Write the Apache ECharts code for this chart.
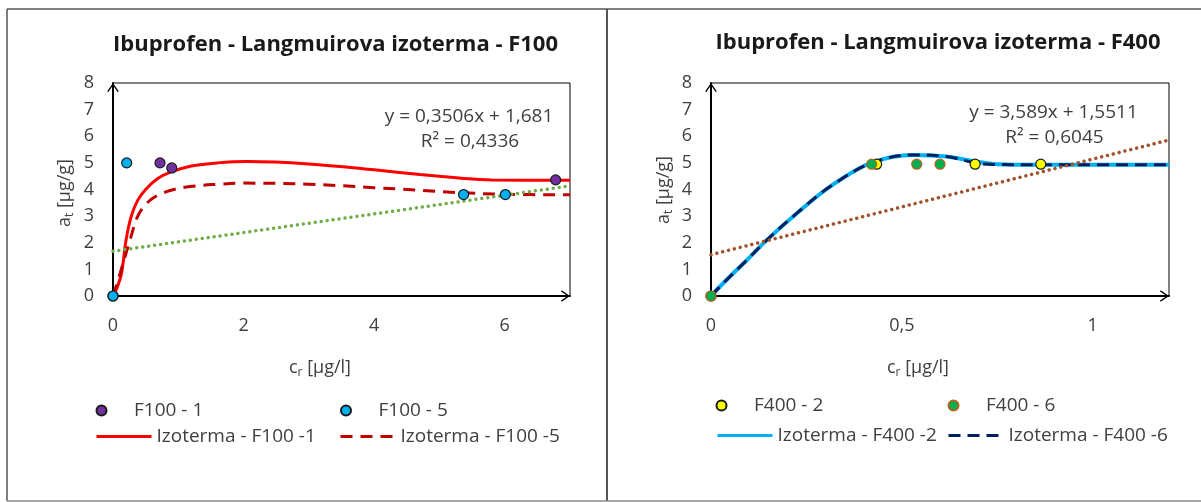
<!DOCTYPE html>
<html>
<head>
<meta charset="utf-8">
<script src="https://cdn.jsdelivr.net/npm/echarts@6/dist/echarts.min.js"></script>
<style>
  html, body { margin: 0; padding: 0; background: #fff; }
  #chart { width: 1201px; height: 502px; }
</style>
</head>
<body>
<div id="chart"></div>
<script>
// F100 - body merania
const f100_1 = [[0, 0], [0.72, 5.0], [0.9, 4.81], [6.78, 4.36]];
const f100_5 = [[0, 0], [0.21, 5.0], [5.37, 3.81], [6.01, 3.81]];
// F100 - izotermy (odcitane z grafu)
const izo100_1 = [[0, 0], [0.06, 0.3], [0.13, 0.85], [0.2, 2.1], [0.28, 3.0], [0.38, 3.6], [0.5, 4.0],
  [0.68, 4.4], [0.87, 4.64], [1.2, 4.88], [1.6, 5.0], [2.05, 5.05], [3, 4.96], [4, 4.74], [4.7, 4.56],
  [5.3, 4.43], [5.8, 4.36], [6.8, 4.35], [7, 4.35]];
const izo100_5 = [[0, 0], [0.11, 0.86], [0.26, 2.1], [0.39, 3.05], [0.57, 3.6], [0.82, 3.92], [1.18, 4.11],
  [1.64, 4.2], [2, 4.24], [3, 4.2], [4, 4.07], [5.33, 3.88], [6, 3.82], [7, 3.8]];
const trend100 = [[0, 1.681], [7, 4.135]];

// F400
const f400_2 = [[0, 0], [0.434, 4.95], [0.692, 4.95], [0.864, 4.95]];
const f400_6 = [[0, 0], [0.421, 4.95], [0.539, 4.95], [0.6, 4.95]];
const izo400_2 = [[0, 0], [0.032, 0.48], [0.094, 1.35], [0.146, 2.1], [0.225, 3.11], [0.312, 4.11],
  [0.421, 5.01], [0.53, 5.3], [0.617, 5.24], [0.692, 5.05], [0.75, 4.95], [0.86, 4.93], [1.2, 4.93]];
const izo400_6 = [[0, 0], [0.032, 0.48], [0.094, 1.35], [0.146, 2.1], [0.225, 3.11], [0.312, 4.11],
  [0.421, 5.0], [0.53, 5.3], [0.617, 5.24], [0.692, 5.0], [0.74, 4.94], [0.86, 4.93], [1.2, 4.93]];
const trend400 = [[0, 1.5511], [1.2, 5.858]];

const titles = ['Ibuprofen - Langmuirova izoterma - F100', 'Ibuprofen - Langmuirova izoterma - F400'];
const eq100 = ['y = 0,3506x + 1,681', 'R² = 0,4336'];
const eq400 = ['y = 3,589x + 1,5511', 'R² = 0,6045'];

const FONT = '"Open Sans", "Noto Sans", sans-serif';
const TXT = '#404040';
const arrow = 'path://M0,10 L7,0 L14,10 L12.6,10.9 L7,2.8 L1.4,10.9 Z';

var myChart = echarts.init(document.getElementById('chart'));

const xAxisBase = (max, interval, fmt) => ({
  type: 'value', min: 0, max: max, interval: interval,
  axisLine: { show: true, lineStyle: { color: '#000', width: 2 }, symbol: ['none', arrow], symbolSize: [14, 9], symbolOffset: [0, -4.5] },
  axisTick: { show: false },
  splitLine: { show: false },
  axisLabel: { fontFamily: FONT, fontSize: 18, color: TXT, margin: 21, showMaxLabel: false, formatter: fmt }
});
const yAxisBase = () => ({
  type: 'value', min: 0, max: 8, interval: 1,
  axisLine: { show: true, lineStyle: { color: '#000', width: 2 }, symbol: ['none', arrow], symbolSize: [14, 9], symbolOffset: [0, -4.5] },
  axisTick: { show: false },
  splitLine: { show: false },
  axisLabel: { fontFamily: FONT, fontSize: 18, color: TXT, margin: 19 }
});

const dot = (name, data, color, border, idx) => ({
  name: name, type: 'scatter', data: data, xAxisIndex: idx, yAxisIndex: idx, z: 5,
  symbolSize: 10, itemStyle: { color: color, borderColor: border, borderWidth: 1.2, opacity: 1 }
});
const curve = (name, data, color, width, dash, idx) => ({
  name: name, type: 'line', data: data, xAxisIndex: idx, yAxisIndex: idx, z: 3,
  smooth: 0.35, showSymbol: false, symbol: 'none',
  lineStyle: { color: color, width: width, type: dash },
  itemStyle: { color: color }
});
const trend = (data, color, idx) => ({
  name: 'trend' + idx, type: 'line', data: data, xAxisIndex: idx, yAxisIndex: idx, z: 4,
  showSymbol: false, symbol: 'none', silent: true,
  lineStyle: { color: color, width: 3.5, type: [0.01, 6], cap: 'round' }
});

// legenda: kazda polozka zvlast
const leg = (name, left, top, isLine) => ({
  data: [name], left: left, top: top, itemWidth: 55, itemHeight: isLine ? 14 : 10, itemGap: 0,
  padding: 0, selectedMode: false,
  itemStyle: isLine ? { opacity: 0 } : {},
  lineStyle: isLine ? { width: 3, dashOffset: 0 } : {},
  textStyle: { fontFamily: FONT, fontSize: 19, color: TXT, padding: [0, 0, 0, 0] }
});

const txt = (x, y, text, opts) => ({
  type: 'text', x: x, y: y, silent: true,
  style: Object.assign({ text: text, fontFamily: FONT, fontSize: 19, fill: TXT, align: 'center', verticalAlign: 'middle' }, opts || {})
});
const subRich = {
  a: { fontFamily: FONT, fontSize: 18, color: TXT, fill: TXT },
  s: { fontFamily: FONT, fontSize: 12, color: TXT, fill: TXT, padding: [9, 0, 0, 0] }
};
const line = (x1, y1, x2, y2, color, w) => ({
  type: 'line', silent: true, shape: { x1: x1, y1: y1, x2: x2, y2: y2 },
  style: { stroke: color, lineWidth: w }
});

myChart.setOption({
  animation: false,
  grid: [
    { left: 113, top: 83, width: 457, height: 213, show: true, borderColor: '#000', borderWidth: 1 },
    { left: 711, top: 83, width: 458, height: 213, show: true, borderColor: '#000', borderWidth: 1 }
  ],
  xAxis: [
    Object.assign(xAxisBase(7, 2, v => String(v)), { gridIndex: 0 }),
    Object.assign(xAxisBase(1.2, 0.5, v => String(v).replace('.', ',')), { gridIndex: 1 })
  ],
  yAxis: [
    Object.assign(yAxisBase(), { gridIndex: 0 }),
    Object.assign(yAxisBase(), { gridIndex: 1 })
  ],
  legend: [
    leg('F100 - 1', 95.5, 401),
    leg('F100 - 5', 340, 401),
    leg('Izoterma - F100 -1', 95, 427, true),
    leg('Izoterma - F100 -5', 339, 427, true),
    leg('F400 - 2', 715.5, 396),
    leg('F400 - 6', 947.5, 396),
    leg('Izoterma - F400 -2', 716, 426, true),
    leg('Izoterma - F400 -6', 947, 426, true)
  ],
  series: [
    curve('Izoterma - F100 -1', izo100_1, '#FF0000', 3, 'solid', 0),
    curve('Izoterma - F100 -5', izo100_5, '#C00000', 3, [12, 8], 0),
    trend(trend100, '#70AD47', 0),
    dot('F100 - 1', f100_1, '#7030A0', '#1a1a1a', 0),
    dot('F100 - 5', f100_5, '#00B0F0', '#1a1a1a', 0),
    curve('Izoterma - F400 -2', izo400_2, '#00B0F0', 4, 'solid', 1),
    curve('Izoterma - F400 -6', izo400_6, '#002060', 3, [12, 7], 1),
    trend(trend400, '#A0522D', 1),
    dot('F400 - 2', f400_2, '#FFFF00', '#1a1a1a', 1),
    dot('F400 - 6', f400_6, '#00B050', '#B5651D', 1)
  ],
  graphic: [
    line(7, 9, 1201, 9, '#555', 1.5),
    line(7, 9, 7, 501, '#555', 1.5),
    line(607, 9, 607, 501, '#555', 2),
    line(7, 501, 1201, 501, '#888', 1.5),
    txt(335.5, 45, titles[0], { fontWeight: 'bold', fontSize: 22, fill: '#1a1a1a' }),
    txt(938, 43, titles[1], { fontWeight: 'bold', fontSize: 22, fill: '#1a1a1a' }),
    txt(469, 117, eq100[0]),
    txt(470, 142, eq100[1]),
    txt(1053.5, 113, eq400[0]),
    txt(1054.5, 138, eq400[1]),
    txt(320, 368, '{a|c}{s|r}{a| [µg/l]}', { rich: subRich }),
    txt(918, 368, '{a|c}{s|r}{a| [µg/l]}', { rich: subRich }),
    Object.assign(txt(65, 193, '{a|a}{s|t}{a| [µg/g]}', { rich: subRich }), { rotation: Math.PI / 2 }),
    Object.assign(txt(664, 190, '{a|a}{s|t}{a| [µg/g]}', { rich: subRich }), { rotation: Math.PI / 2 })
  ]
});
</script>
</body>
</html>
